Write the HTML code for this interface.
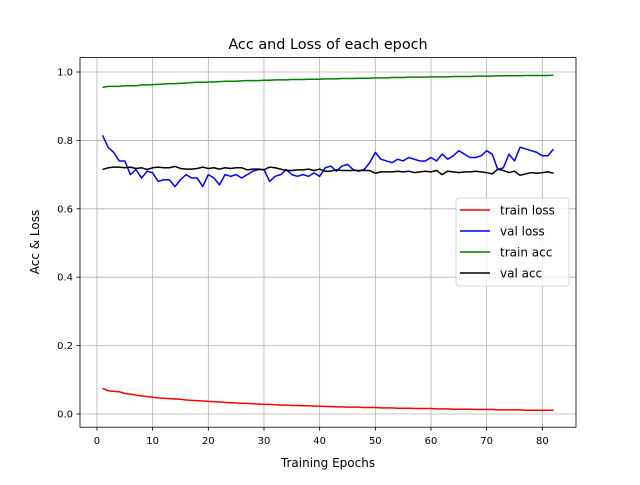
<!DOCTYPE html>
<html><head><meta charset="utf-8"><style>
body{margin:0;background:#fff}
text{font-family:"DejaVu Sans","Liberation Sans",sans-serif;fill:#000}
</style></head><body>
<svg id="chart" width="640" height="480">
<rect width="640" height="480" fill="#fff"/>
<g id="grid"></g><g id="ticks"></g><g id="series"></g>
<rect x="80" y="57.6" width="496" height="369.6" fill="none" stroke="#000" stroke-width="0.8"/>
<text x="328" y="49" text-anchor="middle" font-size="14.4">Acc and Loss of each epoch</text>
<text x="328" y="467" text-anchor="middle" font-size="12">Training Epochs</text>
<text transform="translate(39,242) rotate(-90)" text-anchor="middle" font-size="12">Acc &amp; Loss</text>
<g>
<rect x="456" y="198" width="113" height="88" rx="3" fill="#fff" fill-opacity="0.8" stroke="#ccc" stroke-width="0.8"/>
<g><line x1="460" y1="210" x2="490" y2="210" stroke="#f00" stroke-width="1.5"/><text x="500" y="214.5" font-size="12">train loss</text></g>
<g><line x1="460" y1="231" x2="490" y2="231" stroke="#00f" stroke-width="1.5"/><text x="500" y="235.5" font-size="12">val loss</text></g>
<g><line x1="460" y1="252" x2="490" y2="252" stroke="#008000" stroke-width="1.5"/><text x="500" y="256.5" font-size="12">train acc</text></g>
<g><line x1="460" y1="273" x2="490" y2="273" stroke="#000" stroke-width="1.5"/><text x="500" y="277.5" font-size="12">val acc</text></g>
</g>
</svg>
<script>
const xTicks=[0,10,20,30,40,50,60,70,80];
const yTicks=[0,0.2,0.4,0.6,0.8,1.0];
const yTickLabels=["0.0","0.2","0.4","0.6","0.8","1.0"];
const valLoss=[0.815,0.78,0.765,0.74,0.74,0.70,0.715,0.69,0.71,0.705,0.68,0.685,0.685,0.665,0.685,0.70,0.69,0.69,0.665,0.70,0.69,0.67,0.70,0.695,0.70,0.69,0.70,0.71,0.715,0.715,0.68,0.695,0.70,0.715,0.70,0.695,0.70,0.695,0.705,0.695,0.72,0.725,0.71,0.725,0.73,0.715,0.71,0.715,0.735,0.765,0.745,0.74,0.735,0.745,0.74,0.75,0.745,0.74,0.74,0.75,0.74,0.76,0.745,0.755,0.77,0.76,0.75,0.75,0.755,0.77,0.76,0.715,0.72,0.76,0.74,0.78,0.775,0.77,0.765,0.755,0.755,0.775];
const valAcc=[0.715,0.72,0.722,0.722,0.72,0.722,0.718,0.72,0.715,0.72,0.722,0.72,0.72,0.724,0.718,0.716,0.716,0.718,0.722,0.718,0.72,0.716,0.72,0.718,0.72,0.72,0.714,0.716,0.716,0.714,0.722,0.72,0.716,0.712,0.712,0.714,0.714,0.716,0.712,0.716,0.71,0.71,0.714,0.712,0.712,0.712,0.712,0.712,0.712,0.704,0.708,0.708,0.708,0.71,0.708,0.71,0.706,0.708,0.71,0.708,0.712,0.7,0.71,0.708,0.706,0.708,0.708,0.71,0.708,0.706,0.702,0.716,0.712,0.706,0.71,0.698,0.702,0.706,0.704,0.706,0.708,0.704];
const trainAcc=[0.955,0.958,0.958,0.958,0.96,0.96,0.96,0.962,0.962,0.963,0.964,0.965,0.966,0.966,0.967,0.968,0.969,0.97,0.97,0.971,0.971,0.972,0.973,0.973,0.973,0.974,0.975,0.975,0.975,0.976,0.976,0.977,0.977,0.977,0.978,0.978,0.978,0.979,0.979,0.979,0.98,0.98,0.98,0.981,0.981,0.981,0.982,0.982,0.982,0.983,0.983,0.983,0.984,0.984,0.984,0.985,0.985,0.985,0.985,0.986,0.986,0.986,0.986,0.987,0.987,0.987,0.987,0.988,0.988,0.988,0.988,0.989,0.989,0.989,0.989,0.989,0.99,0.99,0.99,0.99,0.99,0.991];
const trainLoss=[0.075,0.068,0.066,0.065,0.06,0.058,0.055,0.053,0.051,0.049,0.047,0.046,0.045,0.044,0.043,0.041,0.04,0.039,0.038,0.037,0.036,0.035,0.034,0.033,0.032,0.031,0.031,0.03,0.029,0.028,0.028,0.027,0.026,0.026,0.025,0.025,0.024,0.024,0.023,0.023,0.022,0.022,0.021,0.021,0.02,0.02,0.02,0.019,0.019,0.019,0.018,0.018,0.018,0.017,0.017,0.017,0.016,0.016,0.016,0.016,0.015,0.015,0.015,0.014,0.014,0.014,0.014,0.013,0.013,0.013,0.013,0.012,0.012,0.012,0.012,0.012,0.011,0.011,0.011,0.011,0.011,0.011];
const NS="http://www.w3.org/2000/svg";
const X0=80,X1=576,Y0=57.6,Y1=427.2,xmin=-3.05,xmax=86.05,ymin=-0.0386,ymax=1.0422;
const sx=v=>X0+(v-xmin)/(xmax-xmin)*(X1-X0);
const sy=v=>Y1-(v-ymin)/(ymax-ymin)*(Y1-Y0);
function mk(tag,attrs,parent){const e=document.createElementNS(NS,tag);for(const k in attrs)e.setAttribute(k,attrs[k]);document.getElementById(parent).appendChild(e);return e;}
xTicks.forEach(t=>{const x=sx(t);
 const g=mk('line',{x1:x,x2:x,y1:Y0,y2:Y1,stroke:'#b0b0b0','stroke-width':0.8},'grid');
 
 
 mk('line',{x1:x,x2:x,y1:Y1,y2:Y1+3.5,stroke:'#000','stroke-width':0.8},'ticks');
 const tx=mk('text',{x:x,y:Y1+17,'text-anchor':'middle','font-size':10},'ticks');
 tx.textContent=t;
 
 
});
yTicks.forEach((t,i)=>{const y=sy(t);
 const g=mk('line',{x1:X0,x2:X1,y1:y,y2:y,stroke:'#b0b0b0','stroke-width':0.8},'grid');
 
 
 mk('line',{x1:X0-3.5,x2:X0,y1:y,y2:y,stroke:'#000','stroke-width':0.8},'ticks');
 const tx=mk('text',{x:X0-7,y:y+3.5,'text-anchor':'end','font-size':10},'ticks');
 tx.textContent=yTickLabels[i];
 
 
});
[[trainLoss,'#f00','train-loss-line'],[valLoss,'#00f','val-loss-line'],[trainAcc,'#008000','train-acc-line'],[valAcc,'#000','val-acc-line']].forEach(([d,c,n])=>{
 const pts=d.map((v,i)=>sx(i+1).toFixed(2)+','+sy(v).toFixed(2)).join(' ');
 const p=mk('polyline',{points:pts,fill:'none',stroke:c,'stroke-width':1.5,'stroke-linejoin':'round'},'series');
 
 
});
</script>
</body></html>
